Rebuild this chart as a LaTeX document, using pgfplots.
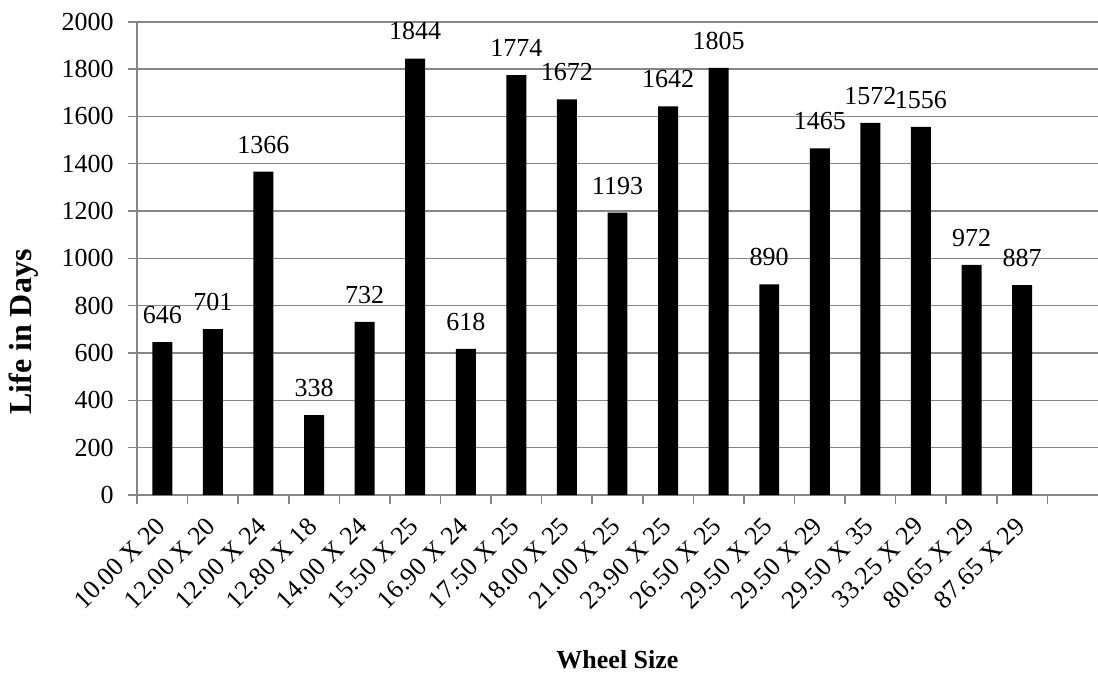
\documentclass[border=0pt]{standalone}
\usepackage{fontspec}
\setmainfont{Liberation Serif}
\usepackage{pgfplots}
\pgfplotsset{compat=1.18}
\definecolor{gridgray}{HTML}{868686}
\newcommand{\cfont}{\fontsize{13}{15.6}\selectfont}
\begin{document}
\begin{tikzpicture}
\path[use as bounding box] (-68.5pt,-90pt) rectangle (480.5pt,247.5pt);
\begin{axis}[
  scale only axis,
  width=480.5pt, height=236.65pt,
  xmin=-0.5, xmax=18.5, ymin=0, ymax=2000,
  axis x line*=bottom, axis y line*=left,
  axis line style={gridgray, line width=0.8pt, -},
  tick align=outside,
  major tick length=4.5pt,
  tick style={gridgray, line width=0.8pt},
  ytick={0,200,...,2000},
  ymajorgrids,
  major grid style={gridgray, line width=0.8pt},
  xtick={-0.5,0.5,...,17.5},
  xticklabels={},
  extra x ticks={0,1,...,17},
  extra x tick labels={10.00 X 20,12.00 X 20,12.00 X 24,12.80 X 18,14.00 X 24,15.50 X 25,16.90 X 24,17.50 X 25,18.00 X 25,21.00 X 25,23.90 X 25,26.50 X 25,29.50 X 25,29.50 X 29,29.50 X 35,33.25 X 29,80.65 X 29,87.65 X 29},
  extra x tick style={major tick length=0pt, grid=none},
  /pgf/number format/assume math mode=true,
  /pgf/number format/1000 sep={},
  yticklabel style={font=\cfont, anchor=east, inner sep=0pt, xshift=-7pt},
  xticklabel style={font=\cfont, inner sep=0pt, xshift=-4pt, yshift=-10pt, rotate=45, anchor=north east},
  ylabel={\textbf{Life in Days}},
  ylabel style={font=\fontsize{16}{19}\selectfont, at={(axis description cs:-0.1176,0.344)}, anchor=center},
  xlabel={\textbf{Wheel Size}},
  xlabel style={font=\cfont, at={(axis description cs:0.5,0)}, anchor=center, yshift=-82.5pt},
  ybar, bar width=0.395,
  nodes near coords,
  every node near coord/.append style={font=\cfont, anchor=south, inner sep=0pt, yshift=9pt, black},
]
\addplot[fill=black, draw=none] coordinates {
(0,646) (1,701) (2,1366) (3,338) (4,732) (5,1844) (6,618) (7,1774) (8,1672)
(9,1193) (10,1642) (11,1805) (12,890) (13,1465) (14,1572) (15,1556) (16,972) (17,887)
};
\end{axis}
\end{tikzpicture}
\end{document}
